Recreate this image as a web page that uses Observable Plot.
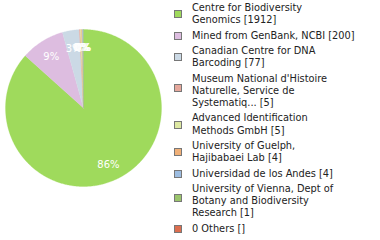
<!DOCTYPE html>
<html>
<head>
<meta charset="utf-8">
<script src="https://cdn.jsdelivr.net/npm/d3@7"></script>
<script src="https://cdn.jsdelivr.net/npm/@observablehq/plot@0.6"></script>
<style>
  html, body { margin: 0; padding: 0; background: #fff; }
  #wrap { position: relative; width: 380px; height: 240px; font-family: "DejaVu Sans", sans-serif; }
  #legend { position: absolute; left: 174px; top: 2px; font-size: 9.8px; line-height: 12.2px; color: #222; }
  .item { position: relative; margin-bottom: 3.2px; padding-left: 18px; white-space: nowrap; }
  .sw { position: absolute; left: 0; width: 6px; height: 6px; border: 1px solid #777; }
</style>
</head>
<body>
<div id="wrap"></div>
<script>
const categories = [
  "Centre for Biodiversity|Genomics [1912]",
  "Mined from GenBank, NCBI [200]",
  "Canadian Centre for DNA|Barcoding [77]",
  "Museum National d'Histoire|Naturelle, Service de|Systematiq... [5]",
  "Advanced Identification|Methods GmbH [5]",
  "University of Guelph,|Hajibabaei Lab [4]",
  "Universidad de los Andes [4]",
  "University of Vienna, Dept of|Botany and Biodiversity|Research [1]",
  "0 Others []"
];
const counts = [1912, 200, 77, 5, 5, 4, 4, 1, 0];
const colors = ["#9fda5c", "#ddbde0", "#cbd9e5", "#e6a89c", "#dde8a2", "#f0b078", "#9dbde1", "#9bc56c", "#dc6e4f"];

const total = d3.sum(counts);
const arcs = d3.pie().sort(null).startAngle(0).endAngle(2 * Math.PI)(counts);

// polygon points for each slice (computed from data via d3.pie)
const pts = [];
arcs.forEach((a, i) => {
  if (a.value <= 0) return;
  pts.push({i, x: 0, y: 0, c: colors[i]});
  const n = Math.max(2, Math.ceil((a.endAngle - a.startAngle) / 0.01));
  for (let k = 0; k <= n; k++) {
    const t = a.startAngle + (a.endAngle - a.startAngle) * k / n;
    pts.push({i, x: Math.sin(t), y: Math.cos(t), c: colors[i]});
  }
  pts.push({i, x: 0, y: 0, c: colors[i]});
});

const lr = 0.78;
const labelData = arcs.filter(a => a.value > 0).map(a => {
  const m = (a.startAngle + a.endAngle) / 2;
  return {x: lr * Math.sin(m), y: lr * Math.cos(m), t: Math.floor(100 * a.value / total) + "%"};
});

const chart = Plot.plot({
  width: 380, height: 240,
  marginLeft: 5, marginRight: 219, marginTop: 29, marginBottom: 54,
  x: {axis: null, domain: [-1, 1]},
  y: {axis: null, domain: [-1, 1]},
  color: {type: "identity"},
  style: {fontFamily: "DejaVu Sans, sans-serif", background: "#fff"},
  marks: [
    Plot.line(pts, {x: "x", y: "y", z: "i", fill: "c", stroke: "c", strokeWidth: 0.3, curve: "linear"}),
    Plot.text(labelData, {x: "x", y: "y", text: "t", fill: "white", fontSize: 10, textAnchor: "middle", dy: 1})
  ]
});
chart.style.position = "absolute";
chart.style.left = "0px";
chart.style.top = "0px";
const wrap = document.getElementById("wrap");
wrap.appendChild(chart);

const legend = document.createElement("div");
legend.id = "legend";
categories.forEach((c, i) => {
  const lines = c.split("|");
  const item = document.createElement("div");
  item.className = "item";
  const sw = document.createElement("div");
  sw.className = "sw";
  sw.style.background = colors[i];
  const h = lines.length * 12.2;
  const off = lines.length >= 3 ? -3 : 0;
  sw.style.top = (h / 2 - 4 + off) + "px";
  item.appendChild(sw);
  lines.forEach(l => {
    const d = document.createElement("div");
    d.textContent = l;
    item.appendChild(d);
  });
  legend.appendChild(item);
});
wrap.appendChild(legend);
</script>
</body>
</html>
